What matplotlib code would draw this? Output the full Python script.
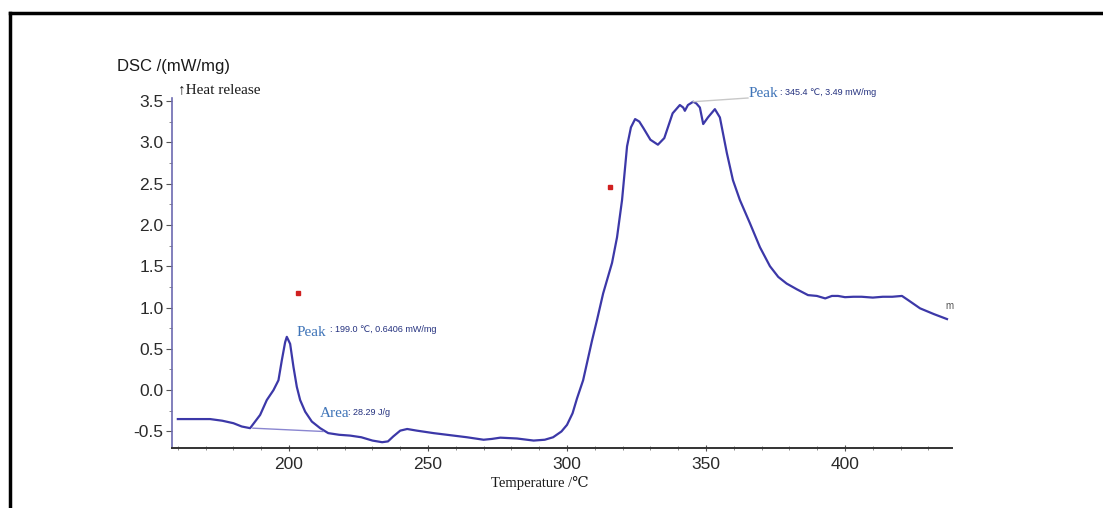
import matplotlib.pyplot as plt
from matplotlib.lines import Line2D
from matplotlib.ticker import MultipleLocator

plt.rcParams['axes.unicode_minus'] = False

# DSC curve
temp = [160, 165, 171.6, 176, 180, 183, 186, 189.6, 192, 194.4, 196.2, 197.4, 198.6,
        199.2, 200.4, 201.6, 202.8, 204, 205.8, 208.2, 211.2, 214.1, 218, 222, 226, 230,
        233.5, 235.6, 237.5, 240, 242.5, 246, 252, 258, 264, 270, 273, 276, 282, 288,
        292, 295, 298, 300, 302, 303.6, 305.8, 307.2, 309, 310.8, 313, 316.2, 318, 319.8,
        321.6, 323, 324.5, 326, 327.5, 330, 332.7, 335, 336.5, 338, 340.6, 341.8, 342.4,
        343.5, 345.4, 346.5, 347.8, 349, 350.7, 353.2, 355, 357.5, 359.7, 362.2, 365.8,
        369.4, 373, 376, 379, 382.7, 386.7, 389.9, 392.9, 395.3, 397.5, 400, 403, 406, 410,
        413.6, 417, 420.5, 422.7, 427, 432, 436.7]
dsc = [-0.35, -0.35, -0.35, -0.37, -0.40, -0.44, -0.46, -0.30, -0.12, 0.0, 0.12, 0.36, 0.58,
       0.645, 0.56, 0.28, 0.04, -0.12, -0.26, -0.38, -0.46, -0.52, -0.54, -0.55, -0.57, -0.61,
       -0.63, -0.62, -0.56, -0.49, -0.47, -0.49, -0.52, -0.545, -0.57, -0.6, -0.59, -0.575, -0.585, -0.61,
       -0.6, -0.57, -0.5, -0.42, -0.28, -0.1, 0.12, 0.33, 0.6, 0.85, 1.17, 1.54, 1.85, 2.3,
       2.95, 3.18, 3.28, 3.25, 3.17, 3.03, 2.97, 3.05, 3.2, 3.35, 3.45, 3.42, 3.38,
       3.45, 3.49, 3.47, 3.42, 3.22, 3.3, 3.4, 3.3, 2.87, 2.54, 2.3, 2.02,
       1.73, 1.5, 1.37, 1.29, 1.22, 1.15, 1.14, 1.11, 1.14, 1.14, 1.125, 1.13, 1.13, 1.12,
       1.13, 1.13, 1.14, 1.09, 0.99, 0.92, 0.86]

# integration baseline of the first peak
base_t = [187, 212.2]
base_v = [-0.46, -0.5]

# peak markers
peak1 = (199.0, 0.6406)
peak2 = (345.4, 3.49)
red_t = [203.2, 315.5]
red_v = [1.17, 2.46]

line_col = '#3c38a8'
serif = ['Liberation Serif', 'DejaVu Serif', 'Noto Sans CJK SC']
sans = ['Liberation Sans', 'DejaVu Sans']

fig = plt.figure(figsize=(11.03, 5.08), dpi=100)
ax = fig.add_axes([172 / 1103, 1 - 448 / 508, (952 - 172) / 1103, (448 - 98) / 508])

ax.plot(temp, dsc, color=line_col, lw=1.6)
ax.plot(base_t, base_v, color='#8a86d0', lw=1.0)
ax.plot(red_t, red_v, ls='none', marker='s', ms=2.2, color='#d02020')

# peak 2 connector line
ax.plot([peak2[0], 365.1], [peak2[1], 3.535], color='#c8c8c8', lw=1.0, clip_on=False)

ax.set_xlim(157.9, 438.5)
ax.set_ylim(-0.70, 3.535)
ax.xaxis.set_major_locator(MultipleLocator(50))
ax.xaxis.set_minor_locator(MultipleLocator(10))
ax.yaxis.set_major_locator(MultipleLocator(0.5))
ax.yaxis.set_minor_locator(MultipleLocator(0.25))

for s in ['top', 'right']:
    ax.spines[s].set_visible(False)
ax.spines['left'].set_color('#6c6ab0')
ax.spines['bottom'].set_color('#333333')
ax.spines['left'].set_linewidth(1.2)
ax.spines['bottom'].set_linewidth(1.4)

ax.tick_params(axis='y', which='major', length=4, width=0.8, color='#555555', pad=2,
               labelsize=12.5, labelcolor='#2a2a2a')
ax.tick_params(axis='y', which='minor', length=2, width=0.6, color='#777777')
ax.tick_params(axis='x', which='major', direction='inout', length=5, width=0.8, color='#555555',
               pad=4, labelsize=12.5, labelcolor='#2a2a2a')
ax.tick_params(axis='x', which='minor', direction='inout', length=3, width=0.6, color='#777777')
for lab in ax.get_xticklabels() + ax.get_yticklabels():
    lab.set_family(sans)

# axis titles
fig.text(117 / 1103, 1 - 67 / 508, 'DSC /(mW/mg)', fontsize=12, family=sans,
         color='#1a1a1a', va='center', ha='left')
fig.text(178 / 1103, 1 - 90 / 508, '↑Heat release', fontsize=11, family=serif,
         color='#1a1a1a', va='center', ha='left')
fig.text(540 / 1103, 1 - 483 / 508, 'Temperature /℃', fontsize=10.5, family=serif,
         color='#1a1a1a', va='center', ha='center')

# annotations
peak_col = '#3f74b8'
val_col = '#23307e'
ax.text(202.6, 0.70, 'Peak', fontsize=11, family=serif, color=peak_col, va='center')
ax.text(214.6, 0.73, ': 199.0 ℃, 0.6406 mW/mg', fontsize=6.5, family=sans, color=val_col, va='center')
ax.text(211.0, -0.28, 'Area', fontsize=11, family=serif, color=peak_col, va='center')
ax.text(221.2, -0.27, ': 28.29 J/g', fontsize=6.5, family=sans, color=val_col, va='center')
ax.text(365.3, 3.59, 'Peak', fontsize=11, family=serif, color=peak_col, va='center')
ax.text(376.6, 3.60, ': 345.4 ℃, 3.49 mW/mg', fontsize=6.5, family=sans, color=val_col, va='center')
ax.text(436.0, 1.02, 'm', fontsize=7, family=sans, color='#555555', va='center')

# outer frame (top and left edges)
fig.add_artist(Line2D([10 / 1103, 1], [1 - 13 / 508] * 2, color='black', lw=2.5))
fig.add_artist(Line2D([10 / 1103] * 2, [0, 1 - 13 / 508], color='black', lw=2.5))

fig.savefig('out.png', dpi=100)
